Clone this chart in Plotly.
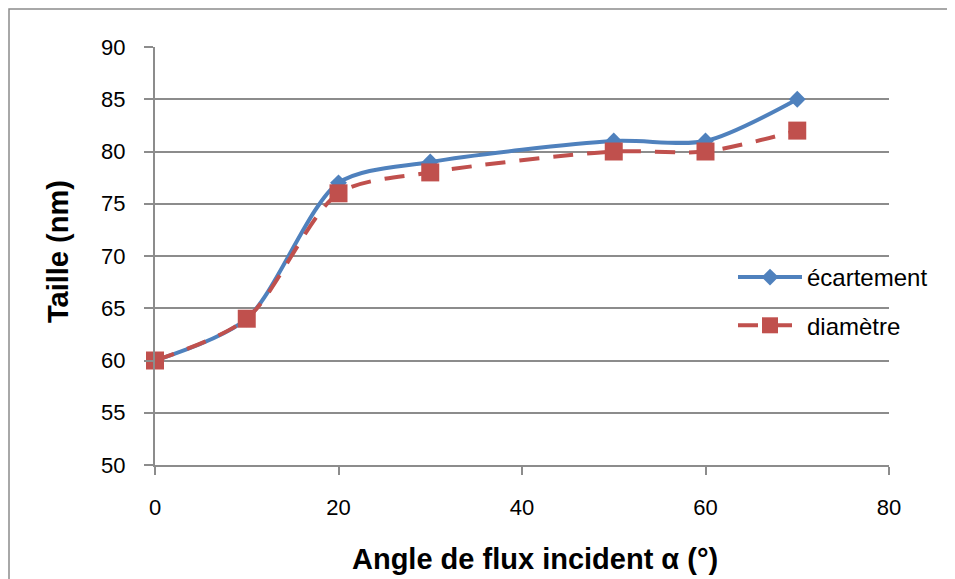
import plotly.graph_objects as go

angles = [0, 10, 20, 30, 50, 60, 70]
ecartement = [60, 64, 77, 79, 81, 81, 85]
diametre = [60, 64, 76, 78, 80, 80, 82]
x_ticks = [0, 20, 40, 60, 80]
y_ticks = [50, 55, 60, 65, 70, 75, 80, 85, 90]

BLUE = "#4F81BD"
RED = "#C0504D"
GRID = "#8C8C8C"
FONT = "Liberation Sans"

OFF = 8  # page body margin
W, H = 955 - OFF, 579 - OFF
L, R, T, B = 155 - OFF, 889 - OFF, 47 - OFF, 465 - OFF

fig = go.Figure()
fig.add_trace(go.Scatter(
    x=angles, y=ecartement, name="écartement", mode="lines+markers",
    line=dict(color=BLUE, width=4, shape="spline", smoothing=0.8),
    marker=dict(symbol="diamond", size=13, color=BLUE),
    cliponaxis=False, legendgroup="a",
))
fig.add_trace(go.Scatter(
    x=angles, y=diametre, name="diamètre", mode="lines+markers",
    line=dict(color=RED, width=4, shape="spline", smoothing=0.8, dash="20px,14px"),
    marker=dict(symbol="square", size=18, color=RED),
    cliponaxis=False, legendgroup="b",
))

pw = R - L
ph = B - T

def px2x(p):
    return (p - OFF - L) / pw

def py2y(p):
    return (B - (p - OFF)) / ph

fig.update_layout(
    width=W, height=H,
    margin=dict(l=L, r=W - R, t=T, b=H - B),
    paper_bgcolor="white", plot_bgcolor="white",
    font=dict(family=FONT, size=21, color="black"),
    showlegend=True,
    legend=dict(
        x=px2x(733), y=py2y(255), xanchor="left", yanchor="top",
        bgcolor="rgba(0,0,0,0)", font=dict(size=24, family=FONT),
        traceorder="grouped", tracegroupgap=14, itemwidth=64,
    ),
    xaxis=dict(
        range=[0, 80], tickvals=x_ticks, ticktext=[str(v) for v in x_ticks],
        showgrid=False, zeroline=False, showline=True, linecolor=GRID, linewidth=2,
        ticks="outside", ticklen=8, tickwidth=2, tickcolor=GRID,
        ticklabelstandoff=14, tickfont=dict(size=22, family=FONT),
    ),
    yaxis=dict(
        range=[50, 90], tickvals=y_ticks, ticktext=[str(v) for v in y_ticks],
        showgrid=True, gridcolor=GRID, gridwidth=2, zeroline=False,
        showline=True, linecolor=GRID, linewidth=2,
        ticks="outside", ticklen=9, tickwidth=2, tickcolor=GRID,
        ticklabelstandoff=14, tickfont=dict(size=22, family=FONT),
    ),
    shapes=[dict(
        type="rect", xref="paper", yref="paper",
        x0=px2x(OFF + 1), x1=px2x(980), y0=py2y(620), y1=py2y(OFF + 1),
        line=dict(color=GRID, width=1.5), fillcolor="rgba(0,0,0,0)", layer="below",
    )],
    annotations=[
        dict(text="<b>Angle de flux incident α (°)</b>", xref="paper", yref="paper",
             x=px2x(535), y=py2y(559), xanchor="center", yanchor="middle",
             showarrow=False, font=dict(size=29, family=FONT)),
        dict(text="<b>Taille (nm)</b>", xref="paper", yref="paper",
             x=px2x(58), y=py2y(252), xanchor="center", yanchor="middle",
             textangle=-90, showarrow=False, font=dict(size=29, family=FONT)),
    ],
)

fig.write_html("out.html")
